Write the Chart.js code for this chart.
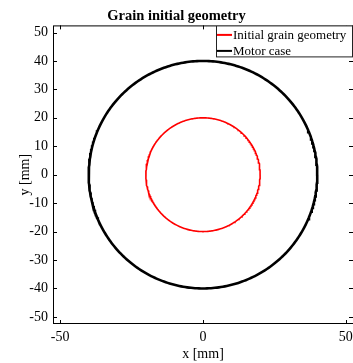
<!DOCTYPE html>
<html>
<head>
<meta charset="utf-8">
<script src="https://cdn.jsdelivr.net/npm/chart.js@4"></script>
<style>
html, body { margin: 0; padding: 0; background: #fff; }
</style>
</head>
<body>
<canvas id="grain-chart" width="353" height="363"></canvas>
<script>
// dados do gráfico
const seriesNames = ['Initial grain geometry', 'Motor case'];
const seriesRadii = [20, 40];      // mm
const seriesCenterX = [0, 0];
const seriesCenterY = [0, 0];
const seriesColors = ['#ff0000', '#000000'];
const seriesWidths = [1.6, 2.6];
const xTicks = [-50, 0, 50];
const yTicks = [-50, -40, -30, -20, -10, 0, 10, 20, 30, 40, 50];
const axisLimits = [-52.5, 52.5];

const FONT = "'Liberation Serif', 'Times New Roman', serif";

// pontos do contorno a partir do raio
function circlePoints(cx, cy, r) {
    const pts = [];
    for (let a = 0; a <= 360; a += 1) {
        const t = a * Math.PI / 180;
        pts.push({ x: cx + r * Math.cos(t), y: cy + r * Math.sin(t) });
    }
    return pts;
}

const datasets = seriesNames.map((name, i) => ({
    label: name,
    data: circlePoints(seriesCenterX[i], seriesCenterY[i], seriesRadii[i]),
    borderColor: seriesColors[i],
    backgroundColor: seriesColors[i],
    borderWidth: seriesWidths[i],
    showLine: true,
    pointRadius: 0,
    tension: 0,
    fill: false
}));

// caixa + marcas de escala para dentro
const boxPlugin = {
    id: 'boxPlugin',
    afterDraw(chart) {
        const { ctx, chartArea: a } = chart;
        const xs = chart.scales.x, ys = chart.scales.y;
        const len = 4;
        ctx.save();
        ctx.strokeStyle = '#000';
        ctx.lineWidth = 1;
        ctx.strokeRect(a.left + 0.5, a.top + 0.5, a.right - a.left, a.bottom - a.top - 1);
        ctx.beginPath();
        xTicks.forEach(v => {
            const px = Math.round(xs.getPixelForValue(v)) + 0.5;
            ctx.moveTo(px, a.bottom); ctx.lineTo(px, a.bottom - len);
            ctx.moveTo(px, a.top); ctx.lineTo(px, a.top + len);
        });
        yTicks.forEach(v => {
            const py = Math.round(ys.getPixelForValue(v)) + 0.5;
            ctx.moveTo(a.left, py); ctx.lineTo(a.left + len, py);
            ctx.moveTo(a.right, py); ctx.lineTo(a.right - len, py);
        });
        ctx.stroke();
        ctx.restore();
    }
};

// legenda no canto superior direito
const legendPlugin = {
    id: 'legendBox',
    afterDraw(chart) {
        const { ctx, chartArea: a } = chart;
        const w = 136, h = 31;
        const x0 = a.right - w - 1, y0 = a.top;
        ctx.save();
        ctx.fillStyle = '#fff';
        ctx.fillRect(x0, y0, w, h);
        ctx.strokeStyle = '#222';
        ctx.lineWidth = 1;
        ctx.strokeRect(x0 + 0.5, y0 + 0.5, w, h);
        ctx.font = '13px ' + FONT;
        ctx.textBaseline = 'middle';
        chart.data.datasets.forEach((ds, i) => {
            const yy = y0 + 9.5 + i * 16;
            ctx.strokeStyle = ds.borderColor;
            ctx.lineWidth = 2;
            ctx.beginPath();
            ctx.moveTo(x0 + 1, yy); ctx.lineTo(x0 + 16, yy);
            ctx.stroke();
            ctx.fillStyle = '#000';
            ctx.fillText(ds.label, x0 + 17, yy + 0.5);
        });
        ctx.restore();
    }
};

const config = {
    type: 'scatter',
    data: { datasets: datasets },
    options: {
        responsive: false,
        animation: false,
        devicePixelRatio: 1,
        layout: { padding: { left: 0, right: 0, top: 0, bottom: 0 } },
        plugins: {
            legend: { display: false },
            tooltip: { enabled: false },
            title: {
                display: true,
                text: 'Grain initial geometry',
                color: '#000',
                font: { family: FONT, size: 14.5, weight: 'bold', lineHeight: 1.2 },
                padding: { top: 8, bottom: 0 }
            }
        },
        scales: {
            x: {
                type: 'linear',
                min: axisLimits[0],
                max: axisLimits[1],
                grid: { display: false, drawTicks: false, tickLength: 0 },
                border: { display: false },
                afterBuildTicks: s => { s.ticks = xTicks.map(v => ({ value: v })); },
                afterFit: s => { s.height = 39; s.paddingLeft = 0; s.paddingRight = 0; },
                ticks: {
                    color: '#000',
                    padding: 5,
                    maxRotation: 0,
                    font: { family: FONT, size: 14 }
                },
                title: {
                    display: true,
                    text: 'x [mm]',
                    color: '#000',
                    font: { family: FONT, size: 14 },
                    padding: { top: 0, bottom: 0 }
                }
            },
            y: {
                type: 'linear',
                min: axisLimits[0],
                max: axisLimits[1],
                grid: { display: false, drawTicks: false, tickLength: 0 },
                border: { display: false },
                afterBuildTicks: s => { s.ticks = yTicks.map(v => ({ value: v })); },
                afterFit: s => { s.width = 53; s.paddingTop = 0; s.paddingBottom = 0; },
                ticks: {
                    color: '#000',
                    padding: 5,
                    font: { family: FONT, size: 14 }
                },
                title: {
                    display: true,
                    text: 'y [mm]',
                    color: '#000',
                    font: { family: FONT, size: 14 },
                    padding: { top: 17, bottom: 0 }
                }
            }
        }
    },
    plugins: [boxPlugin, legendPlugin]
};

const grainChart = new Chart(document.getElementById('grain-chart'), config);
</script>
</body>
</html>
